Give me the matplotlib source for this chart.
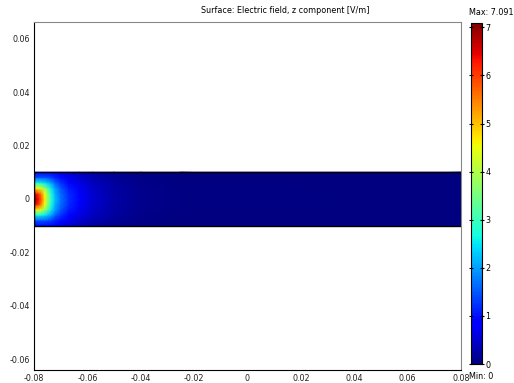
import numpy as np
import matplotlib
matplotlib.use('Agg')
import matplotlib.pyplot as plt

x_off = [0, 0.001, 0.002, 0.003, 0.004, 0.005, 0.0065, 0.008, 0.01,
         0.013, 0.017, 0.022, 0.03, 0.04, 0.055, 0.16]
y_half = [0, 0.002, 0.004, 0.006, 0.008, 0.01]

# Ez [V/m], one row per y_half value (upper half, mirrored below)
ez_y0 = [7.091, 6.7, 6.2, 5.6, 4.7, 3.9, 2.8, 2.2, 1.7, 1.2, 0.8, 0.5, 0.25, 0.1, 0.03, 0.0]
ez_y2 = [6.5, 6.3, 5.9, 5.3, 4.5, 3.8, 2.7, 2.1, 1.65, 1.17, 0.78, 0.49, 0.24, 0.1, 0.03, 0.0]
ez_y4 = [4.6, 4.6, 4.5, 4.2, 3.8, 3.3, 2.5, 1.95, 1.5, 1.08, 0.73, 0.46, 0.23, 0.09, 0.03, 0.0]
ez_y6 = [2.6, 2.7, 2.7, 2.6, 2.5, 2.3, 2.0, 1.6, 1.25, 0.92, 0.63, 0.4, 0.2, 0.08, 0.025, 0.0]
ez_y8 = [1.5, 1.5, 1.5, 1.5, 1.5, 1.45, 1.35, 1.15, 0.95, 0.72, 0.5, 0.32, 0.16, 0.065, 0.02, 0.0]
ez_y10 = [0.9, 0.9, 0.9, 0.9, 0.9, 0.88, 0.82, 0.75, 0.65, 0.5, 0.36, 0.23, 0.12, 0.05, 0.015, 0.0]

ez_min, ez_max = 0, 7.091
x_ticks = [-0.08, -0.06, -0.04, -0.02, 0, 0.02, 0.04, 0.06, 0.08]
x_labels = ['-0.08', '-0.06', '-0.04', '-0.02', '0', '0.02', '0.04', '0.06', '0.08']
y_ticks = [-0.06, -0.04, -0.02, 0, 0.02, 0.04, 0.06]
y_labels = ['-0.06', '-0.04', '-0.02', '0', '0.02', '0.04', '0.06']
cb_ticks = [0, 1, 2, 3, 4, 5, 6, 7]

upper = np.array([ez_y0, ez_y2, ez_y4, ez_y6, ez_y8, ez_y10])
Z = np.vstack([upper[::-1], upper[1:]])
yy = np.concatenate([-np.array(y_half[::-1]), np.array(y_half[1:])])
xx = -0.08 + np.array(x_off)
X, Y = np.meshgrid(xx, yy)

fs = 5.8
fig = plt.figure(figsize=(5.14, 3.83), dpi=100)
ax = fig.add_axes([0.0661, 0.0339, 0.8307, 0.9087])
mesh = ax.pcolormesh(X, Y, Z, shading='gouraud', cmap='jet', vmin=ez_min, vmax=ez_max)
ax.add_patch(plt.Rectangle((-0.08, -0.01), 0.16, 0.02, fill=False, ec='black', lw=1.0))
ax.set_xlim(-0.08, 0.08)
ax.set_ylim(-0.0641, 0.0663)
ax.set_xticks(x_ticks)
ax.set_xticklabels(x_labels)
ax.set_yticks(y_ticks)
ax.set_yticklabels(y_labels)
ax.tick_params(length=0, labelsize=fs, pad=3, colors='#222222')
for s in ['left', 'bottom']:
    ax.spines[s].set_color('black')
for s in ['top', 'right']:
    ax.spines[s].set_color('#888888')
fig.text(0.555, 0.973, 'Surface: Electric field, z component [V/m]',
         fontsize=fs, ha='center', va='center')

cax = fig.add_axes([0.916, 0.0496, 0.022, 0.8904])
cb = fig.colorbar(mesh, cax=cax, ticks=cb_ticks)
cb.outline.set_edgecolor('black')
cb.outline.set_linewidth(0.8)
cax.tick_params(direction='inout', left=True, right=True, length=3,
                labelsize=fs, pad=1)
fig.text(0.912, 0.967, 'Max: %.3f' % ez_max, fontsize=fs, ha='left', va='center')
fig.text(0.913, 0.018, 'Min: %g' % ez_min, fontsize=fs, ha='left', va='center')

fig.savefig('out.png', dpi=100)
